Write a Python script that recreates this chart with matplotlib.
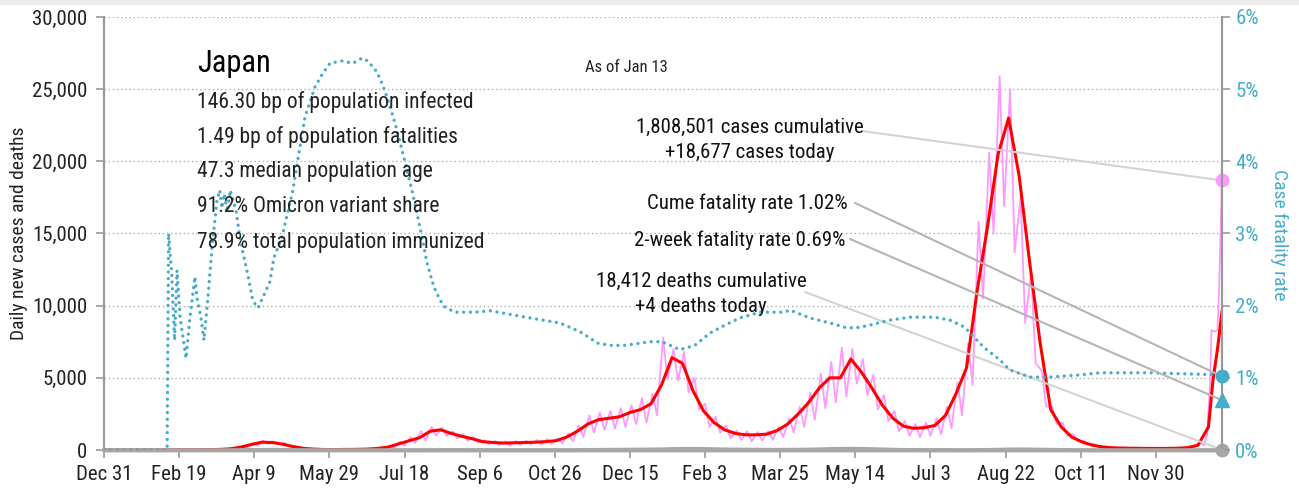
#=========================================================================
import numpy as np
import matplotlib
matplotlib.use('Agg')
import matplotlib.pyplot as plt
from matplotlib.patches import Rectangle

#=========================================================================
#days counted from Dec 31 (day 0) to Jan 13 (day 744)
tick_days = [0, 50, 100, 150, 200, 250, 300, 350, 400, 450, 500, 550, 600, 650, 700]
tick_labels = ['Dec 31', 'Feb 19', 'Apr 9', 'May 29', 'Jul 18', 'Sep 6', 'Oct 26',
               'Dec 15', 'Feb 3', 'Mar 25', 'May 14', 'Jul 3', 'Aug 22', 'Oct 11',
               'Nov 30']
last_day = 744

#7-day average of new cases, one value per week
red_weekly = [0, 0, 0, 0, 0, 2, 5, 10, 15, 20,
              30, 40, 80, 200, 380, 540, 520, 400, 230, 110,
              60, 30, 30, 40, 45, 60, 110, 200, 420, 640,
              850, 1300, 1400, 1150, 950, 780, 580, 520, 480, 500,
              520, 540, 580, 650, 900, 1300, 1800, 2100, 2200, 2300,
              2600, 2800, 3200, 4500, 6400, 6000, 4100, 2700, 1900, 1400,
              1150, 1050, 1050, 1100, 1350, 1800, 2500, 3300, 4300, 5000,
              5000, 6300, 5400, 4300, 3100, 2200, 1650, 1500, 1550, 1700,
              2400, 3900, 5700, 11000, 15500, 20500, 23000, 19000, 13000, 7400,
              2800, 1600, 900, 550, 330, 200, 150, 130, 120, 110,
              110, 110, 120, 160, 330, 1600]
red_tail_days = [738, 741, 744]
red_tail = [4850, 7000, 9600]

#daily new cases: weekly high and low
pink_hi = [0, 0, 0, 0, 0, 4, 8, 15, 22, 30,
           45, 60, 120, 260, 480, 650, 600, 480, 290, 150,
           80, 45, 45, 55, 65, 90, 150, 280, 580, 900,
           1300, 1600, 1550, 1300, 1100, 900, 680, 620, 600, 620,
           640, 700, 750, 800, 1150, 1700, 2400, 2600, 2700, 2900,
           3100, 3600, 3900, 7800, 7000, 6800, 5000, 3200, 2300, 1700,
           1350, 1300, 1250, 1300, 1600, 2200, 3000, 4000, 5300, 6100,
           7100, 7000, 6300, 5200, 3800, 2700, 2000, 1800, 1900, 2200,
           3000, 4700, 7400, 15800, 20600, 25900, 25000, 17500, 12300, 5500,
           3000, 1900, 1100, 650, 420, 250, 180, 170, 160, 150,
           150, 160, 170, 220, 500]
pink_lo = [0, 0, 0, 0, 0, 0, 2, 5, 8, 12,
           15, 25, 50, 150, 300, 420, 400, 300, 160, 70,
           35, 20, 20, 30, 30, 40, 80, 150, 300, 500,
           650, 1000, 1000, 800, 650, 500, 400, 350, 300, 350,
           380, 380, 420, 450, 600, 900, 1200, 1400, 1500, 1600,
           1800, 1900, 2400, 4900, 4800, 4000, 2800, 1600, 1200, 800,
           700, 600, 650, 700, 900, 1200, 1600, 2100, 2900, 3300,
           3700, 4600, 3800, 2800, 2000, 1300, 1000, 900, 1000, 1100,
           1500, 2400, 4500, 10500, 15000, 16900, 13700, 8800, 6000, 3000,
           1800, 1000, 600, 350, 230, 140, 100, 90, 80, 80,
           80, 90, 100, 130, 300]
pink_tail_days = [734, 736, 737, 739, 741, 742, 744]
pink_tail = [1000, 4500, 8300, 8200, 8300, 11000, 18677]

#daily deaths, one value per week
deaths_weekly = [0, 0, 0, 0, 0, 0, 0, 0, 0, 0,
                 1, 2, 4, 10, 20, 25, 30, 25, 15, 8,
                 3, 3, 2, 2, 2, 2, 2, 2, 3, 4,
                 6, 8, 12, 14, 12, 10, 8, 6, 6, 6,
                 5, 5, 5, 6, 8, 12, 20, 25, 30, 35,
                 40, 45, 50, 60, 80, 90, 95, 85, 70, 55,
                 45, 40, 35, 30, 30, 30, 35, 45, 60, 80,
                 95, 100, 90, 75, 55, 35, 20, 15, 12, 12,
                 12, 10, 10, 12, 20, 35, 50, 55, 50, 40,
                 30, 20, 12, 6, 4, 3, 2, 2, 2, 2,
                 2, 1, 1, 1, 1, 2, 3]
deaths_today = 4

#case fatality rate (%)
cfr_days = [0, 42, 43, 45, 47, 48.6, 50.6, 54.6, 57.2, 60.5, 61.9, 64.5, 66.5,
            69.2, 71.9, 75.2, 77, 78.5, 80, 82, 84, 86, 88, 90, 92.5, 95.8, 98.5,
            101, 102.5, 107, 110.4, 113, 118.4, 125.7, 130.4, 133.7, 137, 140.4,
            145, 150.4, 158.3, 165.7, 171.7, 175.6, 181.6, 185, 188.3, 191.6, 195,
            198.3, 201.6, 204.9, 208.3, 211.6, 214.9, 216.9, 219.6, 223.5, 226.9,
            233.5, 246.8, 256.8, 270.1, 283.4, 303.4, 316.7, 328.7, 336.7, 346.6,
            363.3, 371.3, 383.2, 393.2, 403.2, 413.2, 423.2, 436.5, 453.1, 456.4,
            469.7, 483, 493, 499.7, 509.6, 523, 536.3, 552.9, 562.9, 572.9, 579.5,
            586.2, 596.1, 602.8, 616.1, 629.4, 649.4, 662.7, 696, 744]
cfr_vals = [0, 0, 3.0, 2.47, 1.52, 2.49, 1.84, 1.27, 1.84, 2.40, 2.10, 1.84, 1.52,
            2.12, 2.81, 3.46, 3.6, 3.35, 3.55, 3.3, 3.6, 3.45, 3.3, 3.0, 2.73, 2.42, 2.12,
            2.0, 1.97, 2.17, 2.33, 2.66, 2.95, 3.6, 4.2, 4.61, 4.82, 5.03,
            5.2, 5.36, 5.39, 5.36, 5.43, 5.39, 5.24, 5.08, 4.89, 4.67, 4.43,
            4.16, 3.88, 3.6, 3.28, 2.95, 2.6, 2.45, 2.26, 2.08, 1.98,
            1.91, 1.91, 1.93, 1.88, 1.83, 1.76, 1.64, 1.48, 1.45, 1.45,
            1.50, 1.50, 1.39, 1.45, 1.62, 1.73, 1.83, 1.91, 1.91, 1.94,
            1.83, 1.76, 1.70, 1.69, 1.73, 1.80, 1.84, 1.84, 1.80, 1.70, 1.55,
            1.41, 1.25, 1.11, 1.01, 1.01, 1.04, 1.07, 1.07, 1.04]

cases_today = 18677
cume_cfr = 1.02
two_week_cfr = 0.69

stats = ['146.30 bp of population infected',
         '1.49 bp of population fatalities',
         '47.3 median population age',
         '91.2% Omicron variant share',
         '78.9% total population immunized']

#=========================================================================
W, H = 1299, 488
FONT = ['Liberation Sans Narrow', 'Roboto Condensed', 'DejaVu Sans']
TEAL = '#46acc9'
PINK = '#ff99ff'
RED = '#ff0000'
GRAY = '#a6a6a6'

plt.rcParams['font.family'] = FONT

def fpx(x, y):
 #figure fraction from pixel position (origin top left)
  return (x / W, 1.0 - y / H)

def build_series():
  red_x = [7 * i for i in range(len(red_weekly))] + red_tail_days
  red_y = red_weekly + red_tail
  pink_x, pink_y = [], []
  for i in range(len(pink_hi)):
    pink_x += [7 * i + 1, 7 * i + 4]
    pink_y += [pink_hi[i], pink_lo[i]]
  pink_x += pink_tail_days
  pink_y += pink_tail
  dx = [7 * i for i in range(len(deaths_weekly))] + [last_day]
  dy = deaths_weekly + [deaths_today]
  return red_x, red_y, pink_x, pink_y, dx, dy

def plot():
  fig = plt.figure(figsize=(W / 100.0, H / 100.0), dpi=100)
  fig.patches.append(Rectangle((0, 1 - 4.0 / H), 1, 4.0 / H, color='#ececec',
                               transform=fig.transFigure, zorder=0))
  ax = fig.add_axes([104.0 / W, 1 - 450.0 / H, 1118.0 / W, 433.0 / H])
  ax2 = ax.twinx()

  red_x, red_y, pink_x, pink_y, dx, dy = build_series()

  ax.plot(pink_x, pink_y, color=PINK, lw=1.3, zorder=3)
  ax.plot(red_x, red_y, color=RED, lw=2.2, zorder=4)
  ax.plot(dx, dy, color=GRAY, lw=2.5, zorder=5, clip_on=False)

  ax2.plot(cfr_days, cfr_vals, color=TEAL, lw=2.4, linestyle=(0, (0.01, 2.0)),
           dash_capstyle='round', zorder=3)

  ax.set_xlim(0, last_day)
  ax.set_ylim(0, 30000)
  ax2.set_ylim(0, 6)

  ax.set_xticks(tick_days)
  ax.set_xticklabels(tick_labels)
  ax.set_yticks(np.arange(0, 30001, 5000))
  ax.set_yticklabels(['{:,}'.format(v) for v in range(0, 30001, 5000)])
  ax2.set_yticks(range(0, 7))
  ax2.set_yticklabels(['%d%%' % v for v in range(0, 7)])

  ax.yaxis.grid(True, linestyle=(0, (1, 2)), color='#b0b0b0', lw=1.0)
  ax.set_axisbelow(True)

  for a in (ax, ax2):
    a.spines['top'].set_visible(False)
    a.spines['left'].set_color('#999999')
    a.spines['right'].set_color('#999999')
    a.spines['bottom'].set_color(GRAY)
    a.spines['left'].set_linewidth(1.5)
    a.spines['right'].set_linewidth(1.5)
    a.spines['bottom'].set_linewidth(2.5)
  ax.tick_params(axis='both', colors='#999999', labelcolor='#222222',
                 labelsize=15, length=6, width=1.2)
  ax.tick_params(axis='x', pad=5)
  ax.tick_params(axis='y', pad=6)
  ax2.tick_params(axis='y', colors='#999999', labelcolor=TEAL,
                  labelsize=15, length=6, width=1.2)

  ax.set_ylabel('Daily new cases and deaths', fontsize=14, color='#222222')
  ax.yaxis.set_label_coords(-0.068, 0.5)
  ax2.set_ylabel('Case fatality rate', fontsize=14, color=TEAL, rotation=270,
                 va='bottom')
  ax2.yaxis.set_label_coords(1.043, 0.497)

 #title block
  fig.text(*fpx(197, 63), 'Japan', fontsize=22, color='black', va='center',
           ha='left')
  for i, s in enumerate(stats):
    fig.text(*fpx(197, 102 + 35 * i), s, fontsize=15.5, color='#222222',
             va='center', ha='left')
  fig.text(*fpx(585, 68), 'As of Jan 13', fontsize=12, color='#222222',
           va='center', ha='left')

 #annotations
  fig.text(*fpx(750, 127), '1,808,501 cases cumulative', fontsize=15,
           color='#111111', va='center', ha='center')
  fig.text(*fpx(750, 152), '+18,677 cases today', fontsize=15,
           color='#111111', va='center', ha='center')
  fig.text(*fpx(848, 203), 'Cume fatality rate 1.02%', fontsize=15,
           color='#111111', va='center', ha='right')
  fig.text(*fpx(845, 240), '2-week fatality rate 0.69%', fontsize=15,
           color='#111111', va='center', ha='right')
  fig.text(*fpx(701, 281), '18,412 deaths cumulative', fontsize=15,
           color='#111111', va='center', ha='center')
  fig.text(*fpx(701, 306), '+4 deaths today', fontsize=15,
           color='#111111', va='center', ha='center')

  lp = dict(arrowstyle='-', shrinkA=0, shrinkB=0, lw=1.5)
  ax.annotate('', xy=(last_day, cases_today), xytext=fpx(862, 131),
              textcoords='figure fraction',
              arrowprops=dict(lp, color='#d3d3d3'), zorder=6)
  ax2.annotate('', xy=(last_day, cume_cfr), xytext=fpx(855, 203),
               textcoords='figure fraction',
               arrowprops=dict(lp, color='#b5b5b5'), zorder=6)
  ax2.annotate('', xy=(last_day, two_week_cfr), xytext=fpx(850, 239),
               textcoords='figure fraction',
               arrowprops=dict(lp, color='#b5b5b5'), zorder=6)
  ax.annotate('', xy=(last_day, deaths_today), xytext=fpx(805, 292),
              textcoords='figure fraction',
              arrowprops=dict(lp, color='#d3d3d3'), zorder=6)

 #end markers
  ax.plot(last_day, cases_today, 'o', color=PINK, ms=9, clip_on=False, zorder=7)
  ax.plot(last_day, deaths_today, 'o', color=GRAY, ms=9, clip_on=False, zorder=7)
  ax2.plot(last_day, cume_cfr, 'o', color=TEAL, ms=9, clip_on=False, zorder=7)
  ax2.plot(last_day, two_week_cfr, '^', color=TEAL, ms=10, clip_on=False,
           zorder=7)

  fig.savefig('out.png', dpi=100)

# ----
if __name__ == '__main__':
  plot()
